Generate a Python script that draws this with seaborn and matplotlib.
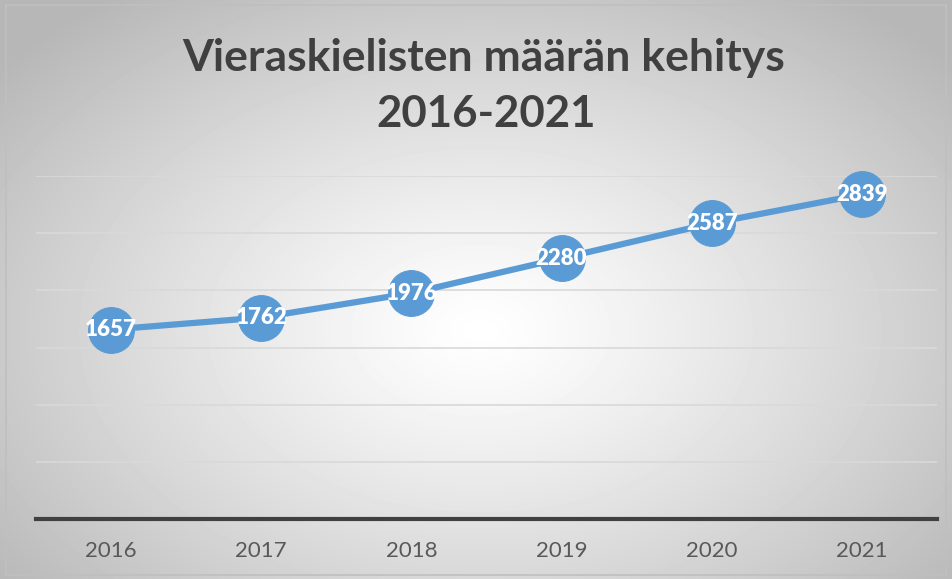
import numpy as np
import pandas as pd
import matplotlib
matplotlib.use("Agg")
import matplotlib.pyplot as plt
import seaborn as sns
from matplotlib.patches import Rectangle

years = ["2016", "2017", "2018", "2019", "2020", "2021"]
speakers = [1657, 1762, 1976, 2280, 2587, 2839]
title_line1 = "Vieraskielisten määrän kehitys"
title_line2 = "2016-2021"

line_color = "#5B9BD5"

sns.set_theme(style="white")
plt.rcParams["font.family"] = ["Lato", "DejaVu Sans"]

df = pd.DataFrame({"pos": range(len(years)), "year": years, "value": speakers})

fig = plt.figure(figsize=(9.52, 5.79), dpi=100)

# radial gradient background
bg = fig.add_axes([0, 0, 1, 1], zorder=-2)
h, w = 579, 952
yy, xx = np.mgrid[0:h, 0:w]
r = np.sqrt(((xx - 480) / 540.0) ** 2 + ((yy - 330) / 360.0) ** 2)
shade = 1.0 - 0.24 * np.clip(r, 0, 1.15) ** 1.2
bg.imshow(shade, cmap="gray", vmin=0, vmax=1, aspect="auto", extent=[0, 1, 0, 1])
bg.set_axis_off()
fig.patches.append(Rectangle((5.5 / w, 4 / h), (946 - 5.5) / w, (574 - 4) / h,
                             transform=fig.transFigure, fill=False,
                             edgecolor="#bfbfbf", linewidth=1.2))

ax = fig.add_axes([36 / w, 1 - 519 / h, (937 - 36) / w, (519 - 176) / h])
ax.set_facecolor("none")
sns.lineplot(data=df, x="pos", y="value", ax=ax, color=line_color, linewidth=4.5,
             marker="o", markersize=33, markeredgecolor=line_color,
             markerfacecolor=line_color, clip_on=False, zorder=3)

for p, v in zip(df["pos"], df["value"]):
    ax.text(p, v, str(v), ha="center", va="center", color="white",
            fontsize=16, fontweight="heavy", zorder=4)

ax.set_xlim(-0.5, len(years) - 0.5)
ax.set_ylim(0, 3000)
ax.set_yticks(np.arange(0, 3001, 500))
ax.yaxis.grid(True, color="#d9d9d9", linewidth=1.2)
ax.set_axisbelow(True)
ax.tick_params(axis="y", left=False, labelleft=False)
ax.set_xticks(df["pos"])
ax.set_xticklabels(years, fontsize=16, color="#595959")
ax.tick_params(axis="x", bottom=False, pad=10)
ax.set_xlabel("")
ax.set_ylabel("")
for s in ["top", "left", "right"]:
    ax.spines[s].set_visible(False)
ax.spines["bottom"].set_color("#404040")
ax.spines["bottom"].set_linewidth(3)

fig.text(484 / w, 1 - 58 / h, title_line1, ha="center", va="center",
         fontsize=32, fontweight="bold", color="#404040")
fig.text(486 / w, 1 - 114 / h, title_line2, ha="center", va="center",
         fontsize=31.5, fontweight="bold", color="#404040")

fig.savefig("out.png", dpi=100)
